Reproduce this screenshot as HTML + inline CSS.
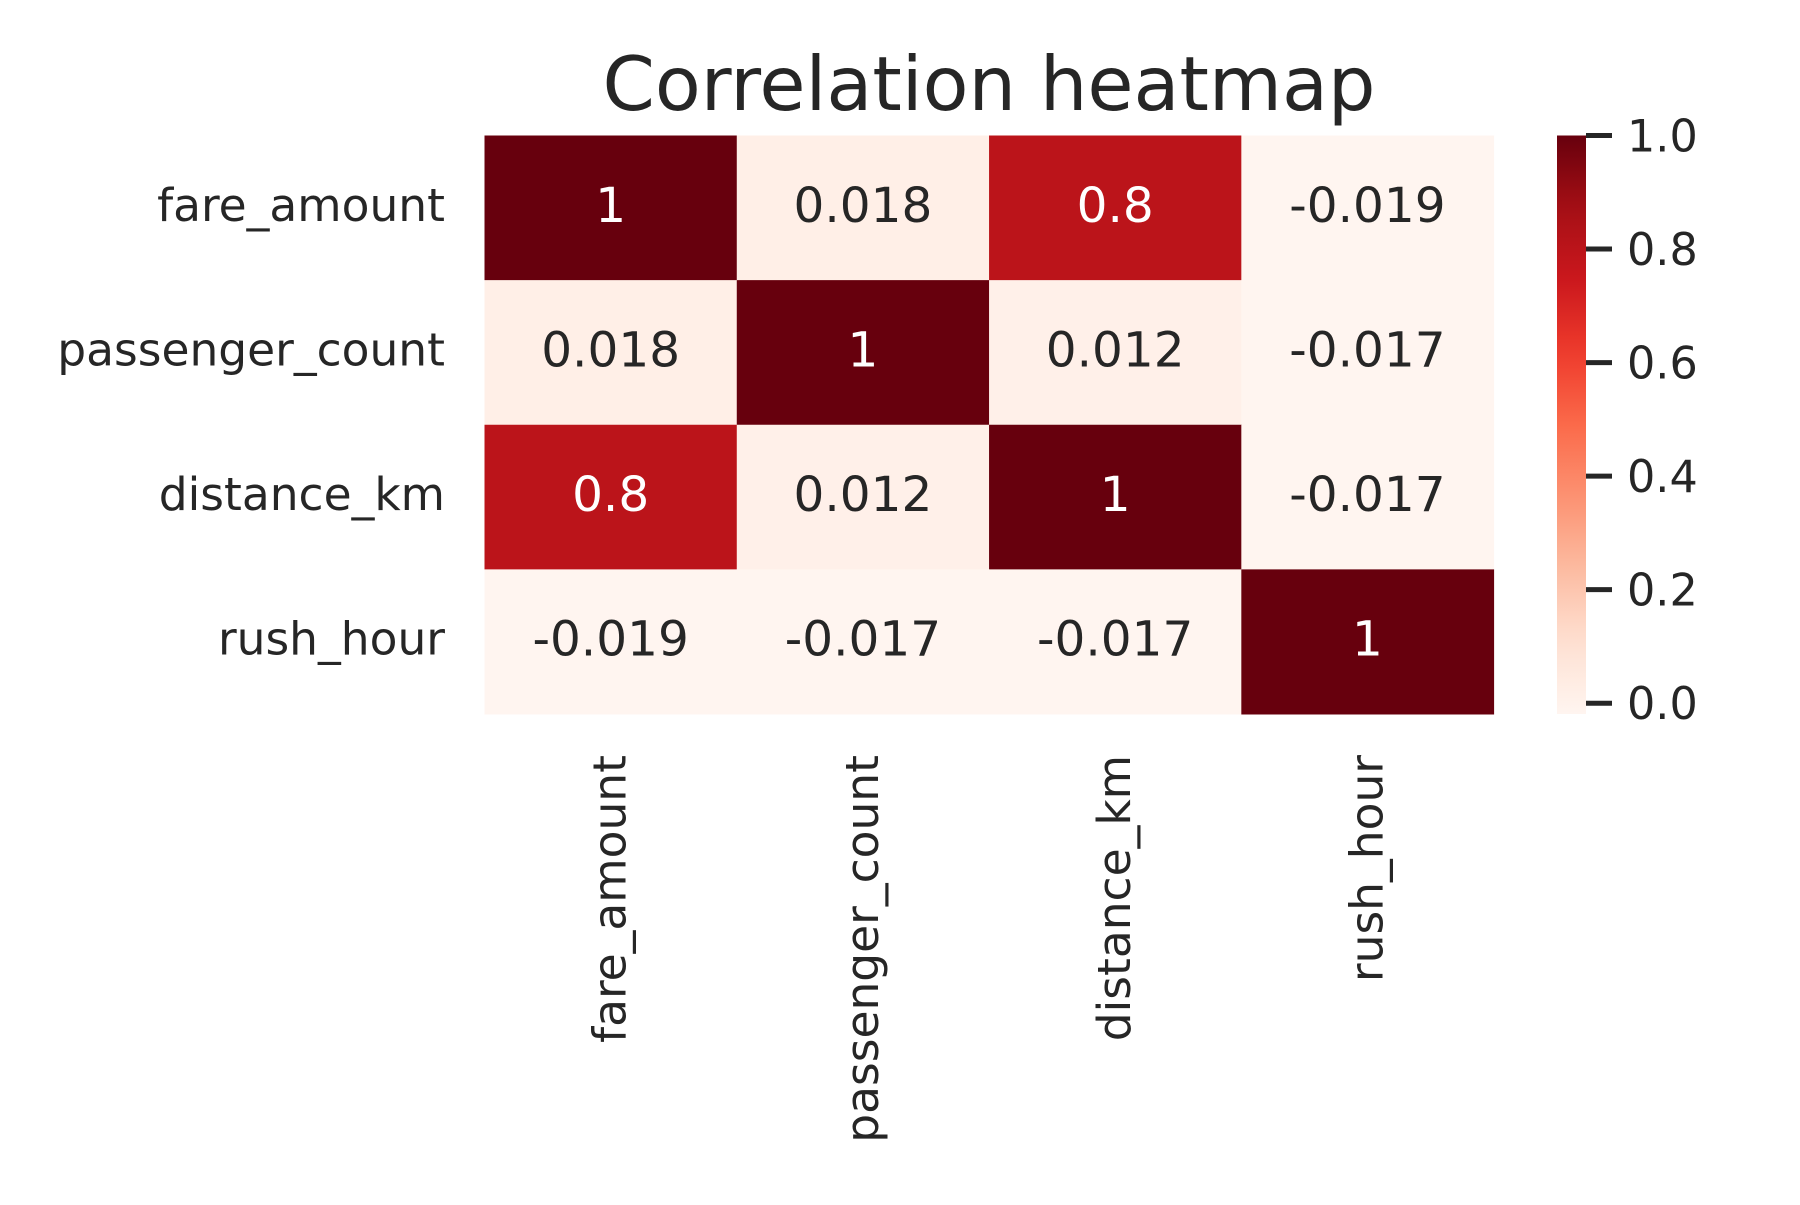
<!DOCTYPE html>
<html><head><meta charset="utf-8"><style>
body{margin:0;background:#fff}
svg text{font-family:"DejaVu Sans","Liberation Sans",sans-serif;fill:#262626}
</style></head><body>
<svg id="chart" width="1800" height="1200" viewBox="0 0 1800 1200" xmlns="http://www.w3.org/2000/svg">
<rect width="1800" height="1200" fill="#fff"/>
<text x="989" y="110" font-size="75" text-anchor="middle">Correlation heatmap</text>
<g id="cells"></g><g id="ylabels"></g><g id="xlabels"></g><g id="cbar"></g>
</svg>
<script>
const categories = ["fare_amount","passenger_count","distance_km","rush_hour"];
const row0 = [1, 0.018, 0.8, -0.019];
const row1 = [0.018, 1, 0.012, -0.017];
const row2 = [0.8, 0.012, 1, -0.017];
const row3 = [-0.019, -0.017, -0.017, 1];
const labels0 = ["1","0.018","0.8","-0.019"];
const labels1 = ["0.018","1","0.012","-0.017"];
const labels2 = ["0.8","0.012","1","-0.017"];
const labels3 = ["-0.019","-0.017","-0.017","1"];
const cbarTicks = [0, 0.2, 0.4, 0.6, 0.8, 1.0];
const cbarTickLabels = ["0.0","0.2","0.4","0.6","0.8","1.0"];

const rows=[row0,row1,row2,row3], lbls=[labels0,labels1,labels2,labels3];
const NS="http://www.w3.org/2000/svg";
const allv=rows.flat(); const vmin=Math.min(...allv), vmax=Math.max(...allv);
const X0=484.5, X1=1493.6, Y0=135.5, Y1=714;
const cw=(X1-X0)/categories.length, ch=(Y1-Y0)/categories.length;
const xPos=i=>X0+i*cw, yPos=i=>Y0+i*ch;
const stops=["#fff5f0","#fee0d2","#fcbba1","#fc9272","#fb6a4a","#ef3b2c","#cb181d","#a50f15","#67000d"].map(h=>[1,3,5].map(k=>parseInt(h.substr(k,2),16)));
function color(v){let t=Math.max(0,Math.min(1,(v-vmin)/(vmax-vmin)))*(stops.length-1);let i=Math.min(Math.floor(t),stops.length-2),f=t-i;
 const c=stops[i].map((a,k)=>Math.round(a+(stops[i+1][k]-a)*f));return {css:`rgb(${c})`,lum:(0.299*c[0]+0.587*c[1]+0.114*c[2])/255};}
function mk(tag,attrs,parent){const e=document.createElementNS(NS,tag);for(const k in attrs)e.setAttribute(k,attrs[k]);parent.appendChild(e);return e;}
const cells=document.getElementById('cells');
rows.forEach((r,i)=>r.forEach((v,j)=>{
 const c=color(v);
 const rc=mk('rect',{x:xPos(j),y:yPos(i),width:cw+0.5,height:ch+0.5,fill:c.css},cells);
 
 
 const t=mk('text',{x:xPos(j)+cw/2,y:yPos(i)+ch/2+14,'font-size':48.5,'text-anchor':'middle'},cells);
 t.style.fill=c.lum<0.5?'#fff':'#262626';
 t.textContent=lbls[i][j];
 
 
}));
const yl=document.getElementById('ylabels'), xl=document.getElementById('xlabels');
categories.forEach((c,i)=>{
 const t=mk('text',{x:445,y:yPos(i)+ch/2+13,'font-size':45.5,'text-anchor':'end'},yl);t.textContent=c;
 
 
 const cx=xPos(i)+cw/2+15;
 const u=mk('text',{x:0,y:0,'font-size':45.5,'text-anchor':'end',transform:`translate(${cx},755) rotate(-90)`},xl);u.textContent=c;
 
 
});
const cb=document.getElementById('cbar');
const CX=1557, CW=29;
const cy=v=>Y1-(v-vmin)/(vmax-vmin)*(Y1-Y0);
const defs=mk('defs',{},cb);const g=mk('linearGradient',{id:'cg',x1:0,y1:1,x2:0,y2:0},defs);
for(let k=0;k<=20;k++){const v=vmin+(vmax-vmin)*k/20;mk('stop',{offset:k/20,'stop-color':color(v).css},g);}
const bar=mk('rect',{x:CX,y:Y0,width:CW,height:Y1-Y0,fill:'url(#cg)'},cb);


cbarTicks.forEach((v,i)=>{
 mk('line',{x1:CX+CW,x2:CX+CW+26,y1:cy(v),y2:cy(v),stroke:'#262626','stroke-width':5},cb);
 const t=mk('text',{x:CX+CW+41,y:cy(v)+16,'font-size':44.5},cb);t.textContent=cbarTickLabels[i];
 
 
});
</script>
</body></html>
